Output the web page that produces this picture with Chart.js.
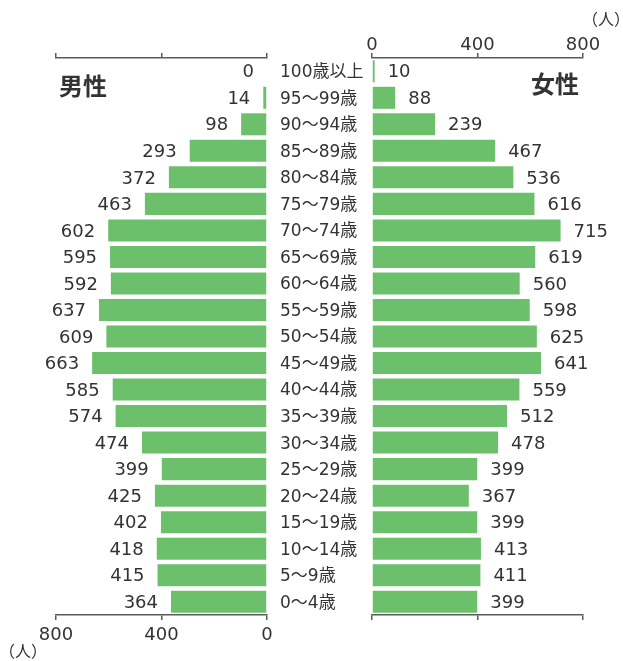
<!DOCTYPE html>
<html lang="ja">
<head>
<meta charset="utf-8">
<script src="https://cdn.jsdelivr.net/npm/chart.js@4/dist/chart.umd.min.js"></script>
<style>
  html, body { margin: 0; padding: 0; background: #fff; }
  #wrap { position: relative; width: 623px; height: 661px; }
  #wrap canvas { position: absolute; left: 0; top: 0; }
</style>
</head>
<body>
<div id="wrap">
  <canvas id="male" width="623" height="661"></canvas>
  <canvas id="female" width="623" height="661"></canvas>
</div>
<script>
// 年齢階級（上が高齢）
const ageGroups = [
  "100歳以上", "95～99歳", "90～94歳", "85～89歳", "80～84歳", "75～79歳",
  "70～74歳", "65～69歳", "60～64歳", "55～59歳", "50～54歳", "45～49歳",
  "40～44歳", "35～39歳", "30～34歳", "25～29歳", "20～24歳", "15～19歳",
  "10～14歳", "5～9歳", "0～4歳"
];
// 男性人口（人）
const maleCounts = [0, 14, 98, 293, 372, 463, 602, 595, 592, 637, 609, 663,
  585, 574, 474, 399, 425, 402, 418, 415, 364];
// 女性人口（人）
const femaleCounts = [10, 88, 239, 467, 536, 616, 715, 619, 560, 598, 625, 641,
  559, 512, 478, 399, 367, 399, 413, 411, 399];
// 軸目盛り
const axisMax = 800;
const axisStep = 400;

const BAR = "#6cc06b";
const TEXT = "#333333";
const AXIS = "#5a5a5a";
const FONT = '"DejaVu Sans", "Noto Sans CJK JP", sans-serif';

// 棒の先に人数を表示
const valueLabels = {
  id: "valueLabels",
  afterDatasetsDraw(chart, args, opts) {
    const ctx = chart.ctx;
    const meta = chart.getDatasetMeta(0);
    const data = chart.data.datasets[0].data;
    ctx.save();
    ctx.font = "18px " + FONT;
    ctx.fillStyle = TEXT;
    ctx.textBaseline = "middle";
    meta.data.forEach((bar, i) => {
      if (opts.side === "left") {
        ctx.textAlign = "right";
        ctx.fillText(String(data[i]), bar.x - 13, bar.y + 1.5);
      } else {
        ctx.textAlign = "left";
        ctx.fillText(String(data[i]), bar.x + 13, bar.y + 1.5);
      }
    });
    ctx.restore();
  }
};

// 見出しと単位
const captions = {
  id: "captions",
  afterDraw(chart) {
    const ctx = chart.ctx;
    ctx.save();
    ctx.fillStyle = TEXT;
    ctx.textBaseline = "middle";
    ctx.font = 'bold 24px "Noto Sans CJK JP", sans-serif';
    ctx.textAlign = "left";
    ctx.fillText("男性", 59, 86);
    ctx.fillText("女性", 531, 84);
    ctx.font = '16px "Noto Sans CJK JP", sans-serif';
    ctx.textAlign = "right";
    ctx.fillText("（人）", 630, 19);
    ctx.textAlign = "left";
    ctx.fillText("（人）", -1, 651);
    ctx.restore();
  }
};

function valueScale(position, reverse, showLabels, height, pad) {
  return {
    type: "linear",
    axis: "x",
    position: position,
    reverse: reverse,
    min: 0,
    max: axisMax,
    ticks: {
      display: showLabels,
      stepSize: axisStep,
      color: TEXT,
      font: { family: FONT, size: 18 },
      padding: pad
    },
    grid: { drawOnChartArea: false, drawTicks: true, tickLength: 5, color: AXIS, lineWidth: 1.5 },
    border: { display: true, color: AXIS, width: 1.5 },
    afterFit(scale) { scale.height = height; }
  };
}

const barDataset = (values) => ({
  data: values,
  backgroundColor: BAR,
  borderWidth: 0,
  categoryPercentage: 1,
  barPercentage: 0.83,
  xAxisID: "x",
  yAxisID: "y"
});

// 男性（左側、右から左へ伸びる）
new Chart(document.getElementById("male"), {
  type: "bar",
  data: { labels: ageGroups, datasets: [barDataset(maleCounts)] },
  options: {
    indexAxis: "y",
    responsive: false,
    animation: false,
    layout: { padding: { left: 56, right: 356, top: 0, bottom: 0 } },
    plugins: { legend: { display: false }, tooltip: { enabled: false }, valueLabels: { side: "left" } },
    scales: {
      y: { display: false },
      x: valueScale("bottom", true, true, 46, 5),
      x2: valueScale("top", true, false, 58, 0)
    }
  },
  plugins: [valueLabels]
});

// 女性（右側）と年齢階級ラベル
new Chart(document.getElementById("female"), {
  type: "bar",
  data: { labels: ageGroups, datasets: [barDataset(femaleCounts)] },
  options: {
    indexAxis: "y",
    responsive: false,
    animation: false,
    layout: { padding: { left: 280, right: 40, top: 0, bottom: 0 } },
    plugins: { legend: { display: false }, tooltip: { enabled: false }, valueLabels: { side: "right" } },
    scales: {
      y: {
        position: "left",
        ticks: { crossAlign: "far", color: TEXT, font: { family: FONT, size: 17 }, padding: 0, labelOffset: 1.5 },
        grid: { display: false },
        border: { display: false },
        afterFit(scale) { scale.width = 92; }
      },
      x: valueScale("top", false, true, 58, -3),
      x2: valueScale("bottom", false, false, 46, 5)
    }
  },
  plugins: [valueLabels, captions]
});
</script>
</body>
</html>
